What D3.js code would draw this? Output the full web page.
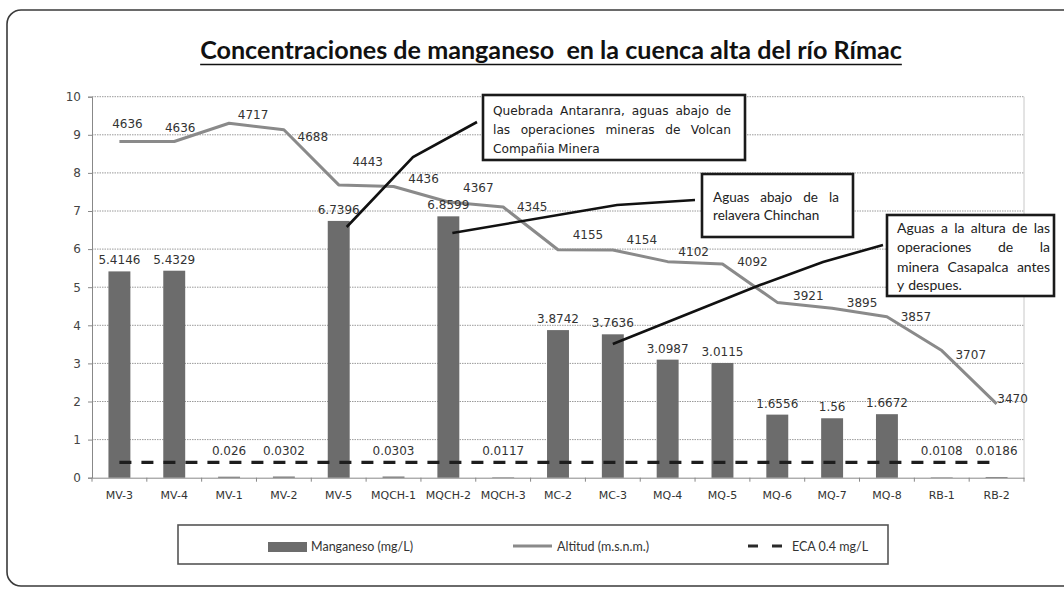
<!DOCTYPE html>
<html>
<head>
<meta charset="utf-8">
<script src="https://cdn.jsdelivr.net/npm/d3@7"></script>
<style>
  html, body { margin: 0; padding: 0; background: #fff; }
  svg { display: block; }
</style>
</head>
<body>
<svg id="chart" width="1064" height="589"></svg>
<script>
// ---------------- DATA ----------------
const categories = ["MV-3","MV-4","MV-1","MV-2","MV-5","MQCH-1","MQCH-2","MQCH-3","MC-2","MC-3","MQ-4","MQ-5","MQ-6","MQ-7","MQ-8","RB-1","RB-2"];
const manganeso = [5.4146,5.4329,0.026,0.0302,6.7396,0.0303,6.8599,0.0117,3.8742,3.7636,3.0987,3.0115,1.6556,1.56,1.6672,0.0108,0.0186];
const manganesoLabels = ["5.4146","5.4329","0.026","0.0302","6.7396","0.0303","6.8599","0.0117","3.8742","3.7636","3.0987","3.0115","1.6556","1.56","1.6672","0.0108","0.0186"];
const altitud = [4636,4636,4717,4688,4443,4436,4367,4345,4155,4154,4102,4092,3921,3895,3857,3707,3470];
const ecaValue = 0.4;
const yTicks = [0,1,2,3,4,5,6,7,8,9,10];
const altDomain = [3142, 4835];
const title = "Concentraciones de manganeso  en la cuenca alta del río Rímac";
const legendLabels = ["Manganeso (mg/L)", "Altitud (m.s.n.m.)", "ECA 0.4 mg/L"];
const notes = [
  {lines: ["Quebrada Antaranra, aguas abajo de", "las operaciones mineras de Volcan", "Compañia Minera"], target: "MV-5"},
  {lines: ["Aguas abajo de la", "relavera Chinchan"], target: "MQCH-2"},
  {lines: ["Aguas a la altura de las", "operaciones de la", "minera Casapalca antes", "y despues."], target: "MC-3"}
];

// ---------------- LAYOUT ----------------
const plot = {left: 92, right: 1024, top: 96.7, bottom: 477.7};
// label nudges for altitude labels [dx, dy] relative to point
const altLabelNudge = [[8,-18],[6,-14],[24,-8],[29,7],[29,-23],[30,-8],[30,-14],[29,0],[30,-15],[29,-10],[26,-10],[30,-2],[31,-7],[30,-5],[29,0],[29,4],[16,-5]];
const noteBoxes = [
  {x:483, y:95, w:262, h:65, tx:493, tr:731, lineY:[111,130,149], font:"'DejaVu Sans'", size:12.2,
   start:[8,227], leader:[[413,157],[477,122]]},
  {x:702, y:174, w:151, h:63, tx:713, tr:839, lineY:[197,215], font:"Lato", size:13.5,
   start:[4,233], leader:[[617,205],[695,200]]},
  {x:887, y:215, w:167, h:81, tx:897, tr:1050, lineY:[228,247,267,285], font:"Lato", size:14,
   start:[0,344], leader:[[760,285],[823,262],[883,245]]}
];

const svg = d3.select("#chart");

// outer frame
svg.append("rect").attr("x",7).attr("y",10).attr("width",1090).attr("height",576)
  .attr("rx",14).attr("fill","none").attr("stroke","#3a3a3a").attr("stroke-width",1.6);

const x = d3.scaleBand().domain(categories).range([plot.left, plot.right]).paddingInner(0.6).paddingOuter(0.3);
const xc = d => x(d) + x.bandwidth()/2;
const y = d3.scaleLinear().domain([0,10]).range([plot.bottom, plot.top]);
const y2 = d3.scaleLinear().domain(altDomain).range([plot.bottom, plot.top]);

// gridlines
svg.append("g").selectAll("line").data(yTicks.filter(t=>t>0)).join("line")
  .attr("x1", plot.left).attr("x2", plot.right)
  .attr("y1", d=>y(d)).attr("y2", d=>y(d))
  .attr("stroke","#9a9a9a").attr("stroke-width",1).attr("stroke-dasharray","1.5,1");
svg.append("line").attr("x1",plot.right).attr("x2",plot.right).attr("y1",plot.top).attr("y2",plot.bottom)
  .attr("stroke","#c8c8c8").attr("stroke-width",1);

// y axis
const yAxis = d3.axisLeft(y).tickValues(yTicks).tickSize(4).tickPadding(7);
const gy = svg.append("g").attr("transform",`translate(${plot.left},0)`).call(yAxis);
gy.select(".domain").attr("stroke","#888");
gy.selectAll(".tick line").attr("stroke","#888");
gy.selectAll("text").attr("font-family","'DejaVu Sans'").attr("font-size",12).attr("fill","#444");

// x axis
const xAxis = d3.axisBottom(x).tickSize(0).tickPadding(14);
const gx = svg.append("g").attr("transform",`translate(0,${plot.bottom})`).call(xAxis);
gx.select(".domain").attr("stroke","#888");
gx.selectAll("text").attr("font-family","'DejaVu Sans'").attr("font-size",11).attr("fill","#333");
svg.append("g").selectAll("line").data(d3.range(categories.length+1)).join("line")
  .attr("x1", i => plot.left + i*(plot.right-plot.left)/categories.length)
  .attr("x2", i => plot.left + i*(plot.right-plot.left)/categories.length)
  .attr("y1", plot.bottom).attr("y2", plot.bottom+4).attr("stroke","#888");

// bars
svg.append("g").selectAll("rect").data(manganeso).join("rect")
  .attr("x",(d,i)=>x(categories[i])).attr("width",x.bandwidth())
  .attr("y",d=>y(d)).attr("height",d=>y(0)-y(d))
  .attr("fill","#6c6c6c");

// ECA dashed line
svg.append("line")
  .attr("x1", xc(categories[0])).attr("x2", xc(categories[categories.length-1]))
  .attr("y1", y(ecaValue)).attr("y2", y(ecaValue))
  .attr("stroke","#1e1e1e").attr("stroke-width",3.2).attr("stroke-dasharray","12,10");

// altitude line
const line = d3.line().x((d,i)=>xc(categories[i])).y(d=>y2(d));
svg.append("path").datum(altitud).attr("d",line)
  .attr("fill","none").attr("stroke","#8a8a8a").attr("stroke-width",3).attr("stroke-linejoin","round");

// bar labels
svg.append("g").selectAll("text").data(manganeso).join("text")
  .attr("x",(d,i)=>xc(categories[i])).attr("y",d=>y(Math.max(d,ecaValue))-7)
  .attr("text-anchor","middle").attr("font-family","'DejaVu Sans'").attr("font-size",12)
  .attr("fill","#333").text((d,i)=>manganesoLabels[i]);

// altitude labels
svg.append("g").selectAll("text").data(altitud).join("text")
  .attr("x",(d,i)=>xc(categories[i])+altLabelNudge[i][0])
  .attr("y",(d,i)=>y2(d)+altLabelNudge[i][1])
  .attr("dy","0.35em")
  .attr("text-anchor","middle").attr("font-family","'DejaVu Sans'").attr("font-size",12)
  .attr("fill","#333").text(d=>d);

// annotations
notes.forEach((n,k)=>{
  const b = noteBoxes[k];
  const pts = [[xc(n.target)+b.start[0], b.start[1]], ...b.leader];
  svg.append("path").attr("d", d3.line()(pts)).attr("fill","none").attr("stroke","#111").attr("stroke-width",2.6);
  svg.append("rect").attr("x",b.x).attr("y",b.y).attr("width",b.w).attr("height",b.h)
    .attr("fill","#fff").attr("stroke","#1a1a1a").attr("stroke-width",2.6);
  n.lines.forEach((ln,li)=>{
    const words = ln.split(" ");
    const last = li === n.lines.length-1;
    const g = svg.append("g");
    const texts = words.map(w => g.append("text").attr("font-family",b.font).attr("font-size",b.size)
      .attr("fill","#222").attr("y",b.lineY[li]).attr("dy","0.35em").text(w));
    const widths = texts.map(t=>t.node().getComputedTextLength());
    const total = d3.sum(widths);
    const spaceW = last || words.length<2 ? b.size*0.28 : (b.tr-b.tx-total)/(words.length-1);
    let cx = b.tx;
    texts.forEach((t,i)=>{ t.attr("x",cx); cx += widths[i] + spaceW; });
  });
});

// title
const tt = svg.append("text").attr("x",551).attr("y",59).attr("text-anchor","middle")
  .attr("font-family","Lato").attr("font-weight","bold").attr("font-size",22).attr("fill","#111")
  .attr("xml:space","preserve").text(title);
let tw = tt.node().getComputedTextLength();
tt.attr("font-size",22*702/tw);
tw = tt.node().getComputedTextLength();
svg.append("line").attr("x1",551-tw/2).attr("x2",551+tw/2).attr("y1",64.5).attr("y2",64.5)
  .attr("stroke","#111").attr("stroke-width",1.6);

// legend
const lg = svg.append("g");
lg.append("rect").attr("x",178).attr("y",525).attr("width",710).attr("height",39)
  .attr("fill","#fff").attr("stroke","#555").attr("stroke-width",1.6);
const ly = 547;
lg.append("rect").attr("x",268).attr("y",ly-5).attr("width",39).attr("height",10).attr("fill","#6c6c6c");
lg.append("line").attr("x1",513).attr("x2",552).attr("y1",ly-1).attr("y2",ly-1).attr("stroke","#8a8a8a").attr("stroke-width",3);
lg.append("line").attr("x1",748).attr("x2",782).attr("y1",ly-1).attr("y2",ly-1).attr("stroke","#2a2a2a").attr("stroke-width",3).attr("stroke-dasharray","10,14");
const legendX = [311, 557, 792];
legendLabels.forEach((t,i)=>{
  lg.append("text").attr("x",legendX[i]).attr("y",ly).attr("dy","0.35em")
    .attr("font-family","Lato").attr("font-size",12.5).attr("fill","#333").text(t);
});
</script>
</body>
</html>
